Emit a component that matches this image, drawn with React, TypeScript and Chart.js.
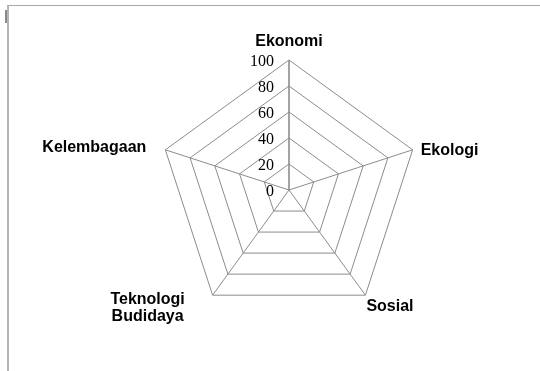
import React, { useEffect, useRef } from "react";
import { Chart, registerables } from "chart.js";

Chart.register(...registerables);

const categories: (string | string[])[] = [
  "Ekonomi",
  "Ekologi",
  "Sosial",
  ["Teknologi", "Budidaya"],
  "Kelembagaan",
];
const nilai: number[] = [0, 0, 0, 0, 0];
const tickMin = 0;
const tickMax = 100;
const tickStep = 20;

const labelPlugin = {
  id: "customLabels",
  afterDraw(chart: any) {
    const scale = chart.scales.r;
    const ctx = chart.ctx as CanvasRenderingContext2D;
    ctx.save();
    // value-axis tick labels, left of the first spoke
    ctx.font = '16px "Liberation Serif", "Times New Roman", serif';
    ctx.fillStyle = "#000";
    ctx.textAlign = "right";
    ctx.textBaseline = "middle";
    scale.ticks.forEach((t: any) => {
      const p = scale.getPointPositionForValue(0, t.value);
      ctx.fillText(String(t.label), p.x - 15, p.y + 1.5);
    });
    // category labels around the web
    ctx.font = 'bold 16px "Liberation Sans", Arial, sans-serif';
    const layout: { dx: number; dy: number; align: CanvasTextAlign }[] = [
      { dx: 0, dy: -18, align: "center" },
      { dx: 8, dy: 1, align: "left" },
      { dx: 1, dy: 11, align: "left" },
      { dx: -65, dy: 4, align: "center" },
      { dx: -19, dy: -2, align: "right" },
    ];
    const labels = chart.data.labels as (string | string[])[];
    labels.forEach((lab, i) => {
      const p = scale.getPointPosition(i, scale.drawingArea);
      const l = layout[i];
      ctx.textAlign = l.align;
      const lines = Array.isArray(lab) ? lab : [lab];
      lines.forEach((line, j) => {
        ctx.fillText(line, p.x + l.dx, p.y + l.dy + j * 17);
      });
    });
    ctx.restore();
  },
};

export default function App() {
  const ref = useRef<HTMLCanvasElement>(null);
  useEffect(() => {
    if (!ref.current) return;
    const chart = new Chart(ref.current, {
      type: "radar",
      data: {
        labels: categories as any,
        datasets: [
          {
            label: "Nilai",
            data: nilai,
            borderColor: "rgba(0,0,0,0)",
            backgroundColor: "rgba(0,0,0,0)",
            borderWidth: 0,
            pointRadius: 0,
          },
        ],
      },
      options: {
        animation: false,
        responsive: false,
        devicePixelRatio: 1,
        layout: { padding: { left: 159, top: 60, right: 121, bottom: 51 } },
        plugins: { legend: { display: false }, tooltip: { enabled: false } },
        scales: {
          r: {
            min: tickMin,
            max: tickMax,
            ticks: { stepSize: tickStep, display: false },
            pointLabels: { display: false },
            grid: { color: "#8c8c8c", lineWidth: 1, circular: false },
            angleLines: {
              color: "#8c8c8c",
              lineWidth: (c: any) => (c.index === 0 ? 1.6 : 1),
            },
          },
        },
      },
      plugins: [labelPlugin],
    });
    return () => chart.destroy();
  }, []);

  return (
    <>
      <div
        style={{
          position: "absolute",
          left: 7,
          top: 5,
          width: 533,
          height: 366,
          boxSizing: "border-box",
          borderTop: "1px solid #aaaaaa",
          borderLeft: "2px solid #b5b5b5",
        }}
      />
      <div
        style={{
          position: "absolute",
          left: 5,
          top: 10,
          width: 2,
          height: 13,
          background: "#8a8a8a",
        }}
      />
      <canvas
        ref={ref}
        width={540}
        height={371}
        style={{ position: "absolute", left: 0, top: 0, width: 540, height: 371 }}
      />
    </>
  );
}
